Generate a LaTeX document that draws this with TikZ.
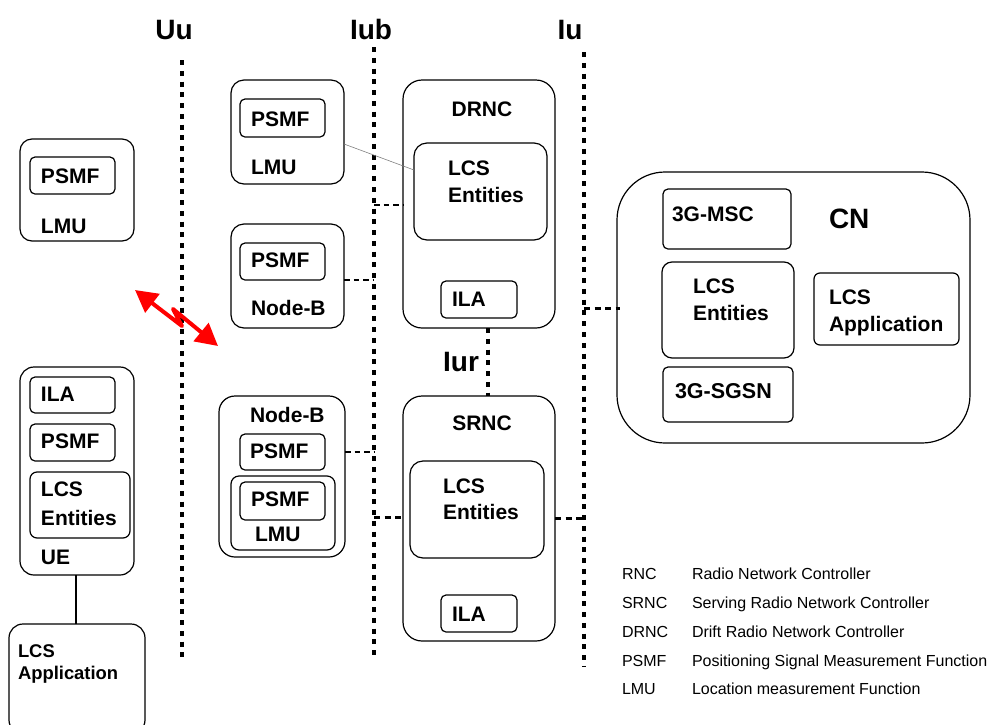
\documentclass[tikz,border=0pt]{standalone}
\usepackage{fontspec}
\setmainfont{Liberation Sans}
\usetikzlibrary{arrows.meta}
\tikzset{
  boxy/.style={draw=black,line width=1.2pt,inner sep=0pt,outer sep=0pt,fill=none},
  lab/.style={anchor=base west,inner sep=0pt,outer sep=0pt,font=\fontsize{21}{21}\selectfont\bfseries},
  smalllab/.style={lab,font=\fontsize{18.4}{18.4}\selectfont\bfseries},
  iface/.style={anchor=base,inner sep=0pt,outer sep=0pt,font=\fontsize{28}{28}\selectfont\bfseries},
  leg/.style={anchor=base west,inner sep=0pt,outer sep=0pt,font=\fontsize{16}{16}\selectfont},
  dots/.style={line width=4pt,dash pattern=on 5pt off 5.77pt},
  shortdash/.style={line width=1.5pt,dash pattern=on 5.5pt off 4pt},
  thickdash/.style={line width=3pt,dash pattern=on 6pt off 4.5pt},
  radio/.style={draw=red,line width=4pt,line join=round,{Triangle[length=22pt,width=23pt,fill=red]}-{Triangle[length=22pt,width=23pt,fill=red]}}
}
\newcommand{\bx}[6]{%
  \pgfmathsetmacro{\bxw}{#4-#2}\pgfmathsetmacro{\bxh}{#5-#3}%
  \node[boxy,rounded corners=#6pt,minimum width=\bxw pt,minimum height=\bxh pt] (#1) at ({(#2+#4)/2},{(#3+#5)/2}) {};}
\begin{document}
\begin{tikzpicture}[x=1pt,y=-1pt]
\useasboundingbox (0,0) rectangle (989,724);
% interface lines
\coordinate (uuT) at (182,60); \coordinate (uuB) at (182,657);
\coordinate (iubT) at (374,47); \coordinate (iubB) at (374,657);
\coordinate (iuT) at (584,52); \coordinate (iuB) at (584,667);
\draw[dots] (uuT) -- (uuB);
\draw[dots] (iubT) -- (iubB);
\draw[dots] (iuT) -- (iuB);
\node[iface] (lUu) at (174,39) {Uu};
\node[iface] (lIub) at (371,39) {Iub};
\node[iface] (lIu) at (570,39) {Iu};
\node[iface] (lIur) at (461,371) {Iur};
% left LMU
\bx{lmuA}{20}{139}{134}{241}{12}
\bx{psmfA}{30}{157}{115}{194}{5}
\node[lab] (tpsmfA) at (41,183) {PSMF};
\node[lab] (tlmuA) at (41,233) {LMU};
% UE
\bx{ue}{20}{367}{134}{575}{14}
\bx{ilaU}{30}{377}{115}{413}{5}
\node[lab] (tilaU) at (41,401) {ILA};
\bx{psmfU}{30}{424}{115}{461}{5}
\node[lab] (tpsmfU) at (41,448) {PSMF};
\bx{lcsU}{30}{472}{130}{538}{7}
\node[lab] (tlcsU) at (41,496) {LCS};
\node[lab] (tentU) at (41,525) {Entities};
\node[lab] (tue) at (41,564) {UE};
% application
\bx{appU}{9}{624}{145}{734}{14}
\node[smalllab] (tappA) at (18,657) {LCS};
\node[smalllab] (tappB) at (18,679) {Application};
\draw[line width=1.4pt] (ue.south -| 76,0) -- (appU.north -| 76,0);
% top LMU
\bx{lmuB}{231}{80}{344}{184}{13}
\bx{psmfB}{240}{99}{325}{137}{5}
\node[lab] (tpsmfB) at (251,126) {PSMF};
\node[lab] (tlmuB) at (251,174) {LMU};
% Node-B
\bx{nbA}{231}{224}{344}{328}{13}
\bx{psmfC}{240}{243}{325}{280}{5}
\node[lab] (tpsmfC) at (251,267) {PSMF};
\node[lab] (tnbA) at (251,315) {Node-B};
% Node-B + LMU
\bx{nbB}{219}{396}{345}{557}{16}
\node[lab] (tnbB) at (250,422) {Node-B};
\bx{psmfD}{240}{434}{325}{470}{5}
\node[lab] (tpsmfD) at (250,458) {PSMF};
\bx{lmuC}{231}{476}{335}{550}{8}
\bx{psmfE}{240}{482}{325}{520}{5}
\node[lab] (tpsmfE) at (251,506) {PSMF};
\node[lab] (tlmuC) at (255,541) {LMU};
% DRNC
\bx{drnc}{403}{80}{555}{328}{19}
\node[lab,anchor=base] (tdrnc) at (482,116) {DRNC};
\bx{lcsD}{414}{143}{547}{240}{13}
\node[lab] (tlcsD) at (448,175) {LCS};
\node[lab] (tentD) at (448,202) {Entities};
\bx{ilaD}{441}{281}{517}{318}{5}
\node[lab] (tilaD) at (452,306) {ILA};
% SRNC
\bx{srnc}{403}{396}{555}{641}{19}
\node[lab,anchor=base] (tsrnc) at (482,430) {SRNC};
\bx{lcsS}{410}{461}{544}{558}{13}
\node[lab] (tlcsS) at (443,493) {LCS};
\node[lab] (tentS) at (443,519) {Entities};
\bx{ilaS}{441}{595}{517}{632}{5}
\node[lab] (tilaS) at (452,621) {ILA};
% CN
\bx{cn}{617}{172}{970}{443}{48}
\bx{msc}{663}{189}{791}{249}{5}
\node[lab] (tmsc) at (672,221) {3G-MSC};
\node[lab,font=\fontsize{28}{28}\selectfont\bfseries] (tcn) at (829,228) {CN};
\bx{lcsC}{662}{262}{794}{358}{10}
\node[lab] (tlcsC) at (693,293) {LCS};
\node[lab] (tentC) at (693,320) {Entities};
\bx{appC}{814}{273}{959}{345}{6}
\node[lab] (tappC) at (829,304) {LCS};
\node[lab] (tappD) at (829,331) {Application};
\bx{sgsn}{663}{367}{793}{422}{5}
\node[lab,font=\fontsize{21.5}{21.5}\selectfont\bfseries] (tsgsn) at (675,398) {3G-SGSN};
% connectors
\draw[gray,line width=0.6pt] (lmuB.east |- 0,144) -- (lcsD.west |- 0,170);
\coordinate (a1) at (374,280); \coordinate (a2) at (374,205);
\coordinate (a3) at (584,308); \coordinate (a4) at (374,452);
\coordinate (a5) at (374,517); \coordinate (a6) at (584,518);
\draw[shortdash] (nbA.east |- a1) -- (a1);
\draw[shortdash] (a2) -- (drnc.west |- a2);
\draw[thickdash] (a3) -- ([xshift=3pt]cn.west |- a3);
\draw[shortdash] (nbB.east |- a4) -- (a4);
\draw[thickdash] (a5) -- (srnc.west |- a5);
\draw[thickdash] (srnc.east |- a6) -- (a6);
\draw[dots] (drnc.south -| 488,0) -- (srnc.north -| 488,0);
% radio
\coordinate (rA) at (135,290); \coordinate (rM1) at (182,326);
\coordinate (rM2) at (173,309); \coordinate (rB) at (218,346);
\path[radio] (rA) -- (rM1) -- (rM2) -- (rB);
% legend
\node[leg] (k1) at (622,579) {RNC};  \node[leg] (v1) at (692,579) {Radio Network Controller};
\node[leg] (k2) at (622,608) {SRNC}; \node[leg] (v2) at (692,608) {Serving Radio Network Controller};
\node[leg] (k3) at (622,637) {DRNC}; \node[leg] (v3) at (692,637) {Drift Radio Network Controller};
\node[leg] (k4) at (622,666) {PSMF}; \node[leg] (v4) at (692,666) {Positioning Signal Measurement Function};
\node[leg] (k5) at (622,694) {LMU};  \node[leg] (v5) at (692,694) {Location measurement Function};
\end{tikzpicture}
\end{document}
